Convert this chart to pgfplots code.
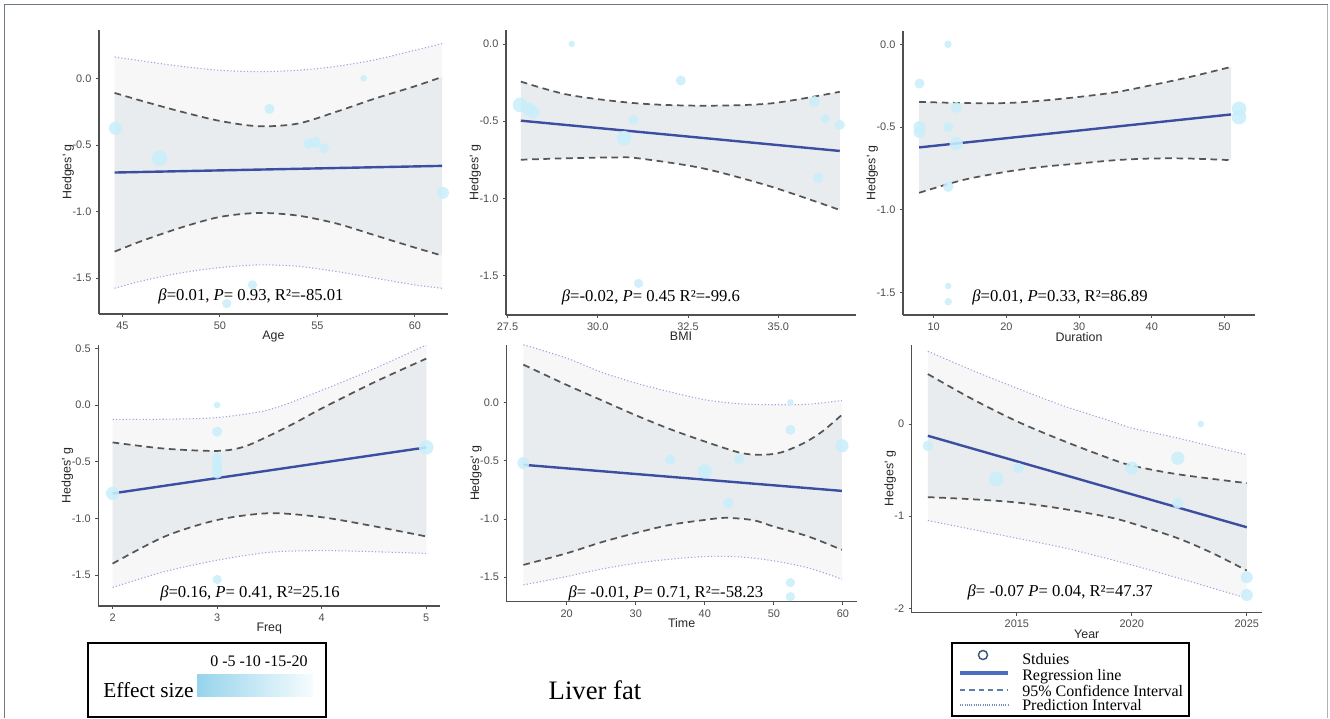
\documentclass[border=0pt]{standalone}
\usepackage{pgfplots}
\pgfplotsset{compat=1.18}
\usepgfplotslibrary{fillbetween}
\usepackage{fontspec}
\setmainfont{Liberation Serif}
\newfontfamily\axisfont{Liberation Sans}

\definecolor{ptc}{RGB}{202,239,250}
\definecolor{regc}{RGB}{60,78,162}
\definecolor{cic}{RGB}{85,85,85}
\definecolor{pic}{RGB}{165,160,225}
\definecolor{cifill}{RGB}{233,236,238}
\definecolor{pifill}{RGB}{247,247,247}
\definecolor{axc}{RGB}{80,80,80}
\definecolor{tkc}{RGB}{77,77,77}
\definecolor{framec}{RGB}{112,120,136}
\definecolor{gradl}{RGB}{150,212,236}
\definecolor{gradr}{RGB}{246,252,254}
\definecolor{legreg}{RGB}{74,111,192}
\definecolor{legci}{RGB}{90,127,168}
\definecolor{legpi}{RGB}{112,144,192}

\tikzset{ann/.style={font=\fontsize{12.5}{14}\selectfont}}

\pgfplotsset{
  panel/.style={
    scale only axis, set layers, anchor=south west,
    axis x line=bottom, axis y line=left,
    axis line style={-, axc, line width=0.9pt},
    tick align=outside, major tick length=2.2pt,
    tick style={axc, line width=0.6pt},
    every tick label/.append style={font=\axisfont\fontsize{8.2}{9}\selectfont, text=tkc},
    label style={font=\axisfont\fontsize{9.3}{10}\selectfont, text=black!85},
    ylabel={Hedges' g},
    /pgf/number format/assume math mode=true,
    x tick label style={/pgf/number format/1000 sep={}},
    ylabel style={yshift=-8pt},
    xlabel style={yshift=5.5pt},
  },
  onedec/.style={yticklabel style={/pgf/number format/.cd, fixed, fixed zerofill, precision=1}},
  pil/.style={pic, line width=0.8pt, dash pattern=on 0.9pt off 1.6pt, smooth},
  cil/.style={cic, line width=1.3pt, dash pattern=on 5pt off 3.5pt, smooth},
  regl/.style={regc, line width=1.8pt},
  pts/.style={only marks, scatter, mark=*,
    scatter/use mapped color={draw=ptc, fill=ptc, draw opacity=0},
    mark options={draw opacity=0, fill=ptc, fill opacity=0.88},
    visualization depends on={\thisrow{s}\as\ms},
    scatter/@pre marker code/.append style={/tikz/mark size=\ms}},
}

\begin{document}
\begin{tikzpicture}

% page layer: frame, legends, caption (pixel coordinates)
\begin{axis}[at={(0pt,0pt)}, anchor=south west, width=997.5pt, height=538.5pt,
  scale only axis, hide axis, clip=false, xmin=0, xmax=1330, ymin=0, ymax=718, y dir=reverse]
\path (0,0) rectangle (1330,718);
\draw[framec, line width=0.8pt] (4.5,718) -- (4.5,4.5) -- (1327.5,4.5);
\draw[gray!60, line width=1.4pt] (1327.5,4.5) -- (1327.5,718);
% effect size box
\draw[black, line width=1.1pt] (88,643) rectangle (326,717);
\fill[left color=gradl, right color=gradr] (197,674) rectangle (313,696);
\node[anchor=base west, font=\fontsize{16}{18}\selectfont, inner sep=0pt] at (103,697) {Effect size};
\node[anchor=base west, font=\fontsize{12}{14}\selectfont, inner sep=0pt] at (210,666) {0 -5 -10 -15-20};
\node[font=\fontsize{20}{22}\selectfont, inner sep=0pt] at (595,690) {Liver fat};
% legend box
\draw[black, line width=1.1pt] (952,643) rectangle (1189,716);
\addplot[only marks, mark=o, mark size=3.4pt, mark options={draw=legci!70!black, fill=ptc!70, line width=1.1pt}] coordinates {(983,655)};
\addplot[legreg, line width=3.6pt] coordinates {(960,673) (1008,673)};
\addplot[legci, line width=1.1pt, dash pattern=on 4pt off 3pt] coordinates {(960,690) (1008,690)};
\addplot[legpi, line width=0.8pt, dash pattern=on 0.7pt off 1pt] coordinates {(960,705) (1008,705)};
\node[anchor=base west, font=\fontsize{12}{14}\selectfont, inner sep=0pt] at (1022,664) {Stduies};
\node[anchor=base west, font=\fontsize{12}{14}\selectfont, inner sep=0pt] at (1022,680) {Regression line};
\node[anchor=base west, font=\fontsize{12}{14}\selectfont, inner sep=0pt] at (1022,696.5) {95\% Confidence Interval};
\node[anchor=base west, font=\fontsize{12}{14}\selectfont, inner sep=0pt] at (1022,710.5) {Prediction Interval};
\end{axis}

% ---------- Age ----------
\begin{axis}[panel, onedec, at={(74.25pt,303pt)}, width=261.75pt, height=213pt,
  xmin=43.8, xmax=61.7, ymin=-1.768, ymax=0.362,
  xtick={45,50,55,60}, ytick={-1.5,-1,-0.5,0}, xlabel={Age}]
\addplot[pil, name path=pu] coordinates {(44.6,0.16) (46,0.13) (48,0.09) (50,0.06) (52,0.05) (54,0.06) (56,0.09) (58,0.14) (60,0.21) (61.4,0.26)};
\addplot[pil, name path=pl] coordinates {(44.6,-1.575) (46,-1.52) (48,-1.46) (50,-1.42) (52,-1.40) (54,-1.41) (56,-1.45) (58,-1.50) (60,-1.55) (61.4,-1.575)};
\addplot[fill=pifill, draw=none] fill between[of=pu and pl];
\addplot[cil, name path=cu] coordinates {(44.6,-0.11) (46,-0.17) (48,-0.25) (50,-0.32) (52,-0.36) (54,-0.34) (56,-0.25) (58,-0.15) (60,-0.06) (61.4,0.01)};
\addplot[cil, name path=cl] coordinates {(44.6,-1.30) (46,-1.22) (48,-1.12) (50,-1.04) (52,-1.01) (54,-1.03) (56,-1.09) (58,-1.18) (60,-1.27) (61.4,-1.33)};
\addplot[fill=cifill, draw=none] fill between[of=cu and cl];
\addplot[regl] coordinates {(44.6,-0.707) (61.4,-0.657)};
\addplot[pts] table[row sep=\\] {x y s\\ 44.65 -0.375 5\\ 46.9 -0.60 6\\ 52.54 -0.23 3.8\\ 54.56 -0.49 4.2\\ 54.9 -0.48 4.2\\ 55.35 -0.525 3.8\\ 57.37 0.0 2.5\\ 61.44 -0.86 4.5\\ 51.67 -1.55 3.5\\ 50.35 -1.69 3.5\\};
\node[ann] at (rel axis cs:0.4355,0.063) {{\itshape β}=0.01, \textit{P}= 0.93, R²=-85.01};
\end{axis}

% ---------- BMI ----------
\begin{axis}[panel, at={(379.5pt,302.25pt)}, width=262.5pt, height=213.75pt,
  xmin=27.46, xmax=37.15, ymin=-1.755, ymax=0.09,
  xtick={27.5,30,32.5,35}, ytick={-1.5,-1,-0.5,0}, xlabel={BMI},
  ticklabel style={/pgf/number format/.cd, fixed, fixed zerofill, precision=1}]
\addplot[cil, name path=cu] coordinates {(27.87,-0.244) (29.2,-0.33) (31.1,-0.385) (32.9,-0.40) (34.8,-0.385) (36.7,-0.31)};
\addplot[cil, name path=cl] coordinates {(27.87,-0.75) (29.2,-0.74) (30.5,-0.735) (31.1,-0.74) (32.9,-0.805) (34.8,-0.924) (36.7,-1.075)};
\addplot[fill=cifill, draw=none] fill between[of=cu and cl];
\addplot[regl] coordinates {(27.87,-0.497) (36.7,-0.693)};
\addplot[pts] table[row sep=\\] {x y s\\ 27.85 -0.395 5.5\\ 28.08 -0.42 5\\ 28.2 -0.44 5\\ 29.28 0.0 2.5\\ 30.73 -0.61 5.5\\ 30.99 -0.49 3.8\\ 32.3 -0.237 3.8\\ 36.0 -0.373 4.2\\ 36.3 -0.485 3.5\\ 36.7 -0.524 3.8\\ 36.1 -0.866 4\\ 31.13 -1.55 3.5\\};
\node[ann] at (rel axis cs:0.414,0.063) {{\itshape β}=-0.02, \textit{P}= 0.45 R²=-99.6};
\end{axis}

% ---------- Duration ----------
\begin{axis}[panel, onedec, at={(677.25pt,302.25pt)}, width=264pt, height=213pt,
  xmin=5.78, xmax=54.2, ymin=-1.635, ymax=0.08,
  xtick={10,20,30,40,50}, ytick={-1.5,-1,-0.5,0}, xlabel={Duration}]
\addplot[cil, name path=cu] coordinates {(8,-0.348) (14,-0.355) (20,-0.355) (25,-0.34) (30,-0.318) (35,-0.29) (40,-0.247) (45,-0.20) (50.9,-0.137)};
\addplot[cil, name path=cl] coordinates {(8,-0.897) (14,-0.82) (20,-0.77) (25,-0.74) (30,-0.72) (35,-0.70) (40,-0.69) (45,-0.69) (50.9,-0.70)};
\addplot[fill=cifill, draw=none] fill between[of=cu and cl];
\addplot[regl] coordinates {(8,-0.623) (50.9,-0.424)};
\addplot[pts] table[row sep=\\] {x y s\\ 8.05 -0.237 3.8\\ 8.05 -0.50 4.5\\ 8.05 -0.53 4.5\\ 11.97 0.0 2.8\\ 13.1 -0.382 4.2\\ 12.0 -0.5 3.8\\ 13.1 -0.6 5\\ 12.0 -0.86 4\\ 12.0 -1.46 2.5\\ 12.0 -1.555 2.8\\ 52 -0.39 5.5\\ 52 -0.44 5.5\\};
\node[ann] at (rel axis cs:0.446,0.063) {{\itshape β}=0.01, \textit{P}=0.33, R²=86.89};
\end{axis}

% ---------- Freq ----------
\begin{axis}[panel, onedec, at={(73.7pt,84pt)}, width=256.5pt, height=195.75pt,
  xmin=1.863, xmax=5.134, ymin=-1.774, ymax=0.53,
  xtick={2,3,4,5}, ytick={-1.5,-1,-0.5,0,0.5}, xlabel={Freq}]
\addplot[pil, name path=pu] coordinates {(2,-0.127) (2.5,-0.125) (3,-0.11) (3.5,-0.04) (4,0.13) (4.5,0.32) (5,0.53)};
\addplot[pil, name path=pl] coordinates {(2,-1.61) (2.5,-1.47) (3,-1.37) (3.5,-1.30) (4,-1.285) (4.5,-1.295) (5,-1.31)};
\addplot[fill=pifill, draw=none] fill between[of=pu and pl];
\addplot[cil, name path=cu] coordinates {(2,-0.33) (2.5,-0.385) (3,-0.405) (3.25,-0.37) (3.5,-0.27) (3.75,-0.155) (4,-0.03) (4.5,0.2) (5,0.41)};
\addplot[cil, name path=cl] coordinates {(2,-1.40) (2.5,-1.16) (3,-1.015) (3.5,-0.955) (4,-0.99) (4.5,-1.07) (5,-1.16)};
\addplot[fill=cifill, draw=none] fill between[of=cu and cl];
\addplot[regl] coordinates {(2,-0.78) (5,-0.374)};
\addplot[pts] table[row sep=\\] {x y s\\ 2 -0.78 5\\ 3 0.0 2.5\\ 3 -0.235 3.8\\ 3 -0.46 3.5\\ 3 -0.5 3.8\\ 3 -0.55 4\\ 3 -0.6 4.2\\ 3 -1.54 3.5\\ 5 -0.374 5.5\\};
\node[ann] at (rel axis cs:0.4436,0.05) {{\itshape β}=0.16, \textit{P}= 0.41, R²=25.16};
\end{axis}

% ---------- Time ----------
\begin{axis}[panel, onedec, at={(380pt,87.2pt)}, width=262.5pt, height=192.75pt,
  xmin=11.3, xmax=62.0, ymin=-1.71, ymax=0.495,
  xtick={20,30,40,50,60}, ytick={-1.5,-1,-0.5,0}, xlabel={Time}]
\addplot[pil, name path=pu] coordinates {(13.72,0.495) (20,0.38) (25,0.26) (30,0.166) (35,0.09) (40,0.023) (45,-0.011) (50,-0.02) (55,-0.015) (59.86,0.017)};
\addplot[pil, name path=pl] coordinates {(13.72,-1.566) (20,-1.494) (25,-1.43) (30,-1.38) (35,-1.345) (40,-1.323) (45,-1.325) (50,-1.36) (55,-1.42) (59.86,-1.517)};
\addplot[fill=pifill, draw=none] fill between[of=pu and pl];
\addplot[cil, name path=cu] coordinates {(13.72,0.324) (20,0.15) (25,0.02) (30,-0.11) (35,-0.23) (40,-0.335) (45,-0.43) (48,-0.45) (51,-0.43) (54.3,-0.35) (57,-0.25) (59.86,-0.106)};
\addplot[cil, name path=cl] coordinates {(13.72,-1.394) (20,-1.294) (25,-1.20) (30,-1.12) (35,-1.05) (40,-1.008) (43,-0.99) (47,-1.01) (50,-1.065) (55,-1.15) (59.86,-1.265)};
\addplot[fill=cifill, draw=none] fill between[of=cu and cl];
\addplot[regl] coordinates {(13.72,-0.535) (59.86,-0.759)};
\addplot[pts] table[row sep=\\] {x y s\\ 13.72 -0.52 4.5\\ 34.98 -0.49 4\\ 40 -0.59 5.5\\ 45 -0.487 4\\ 43.4 -0.865 4\\ 52.4 0.0 2.5\\ 52.4 -0.235 3.8\\ 59.86 -0.372 5\\ 52.4 -1.546 3.5\\ 52.4 -1.666 3.5\\};
\node[ann] at (rel axis cs:0.455,0.034) {{\itshape β}= -0.01, \textit{P}= 0.71, R²=-58.23};
\end{axis}

% ---------- Year ----------
\begin{axis}[panel, at={(683.8pt,79pt)}, width=262.5pt, height=201pt,
  xmin=2010.43, xmax=2025.65, ymin=-2.047, ymax=0.862,
  xtick={2015,2020,2025}, ytick={-2,-1,0}, xlabel={Year}]
\addplot[pil, name path=pu] coordinates {(2011.13,0.79) (2013,0.59) (2015,0.39) (2017,0.20) (2019,0.04) (2020,-0.043) (2022,-0.152) (2025,-0.333)};
\addplot[pil, name path=pl] coordinates {(2011.13,-1.047) (2013,-1.14) (2015,-1.239) (2017,-1.34) (2018.3,-1.42) (2020,-1.53) (2022,-1.67) (2025,-1.89)};
\addplot[fill=pifill, draw=none] fill between[of=pu and pl];
\addplot[cil, name path=cu] coordinates {(2011.13,0.543) (2013,0.28) (2015,0.03) (2017,-0.18) (2019,-0.37) (2020,-0.45) (2022,-0.545) (2025,-0.641)};
\addplot[cil, name path=cl] coordinates {(2011.13,-0.793) (2013,-0.815) (2015,-0.851) (2017,-0.92) (2019,-1.01) (2020,-1.076) (2022,-1.239) (2023.5,-1.40) (2025,-1.59)};
\addplot[fill=cifill, draw=none] fill between[of=cu and cl];
\addplot[regl] coordinates {(2011.13,-0.127) (2025,-1.12)};
\addplot[pts] table[row sep=\\] {x y s\\ 2011.13 -0.235 4\\ 2014.1 -0.598 5.5\\ 2015.07 -0.478 4\\ 2020 -0.478 5\\ 2022 -0.37 5\\ 2022 -0.859 4.2\\ 2023 0.0 2.5\\ 2025 -1.663 4.5\\ 2025 -1.855 4.5\\};
\node[ann] at (rel axis cs:0.424,0.077) {{\itshape β}= -0.07 \textit{P}= 0.04, R²=47.37};
\end{axis}
\end{tikzpicture}
\end{document}
